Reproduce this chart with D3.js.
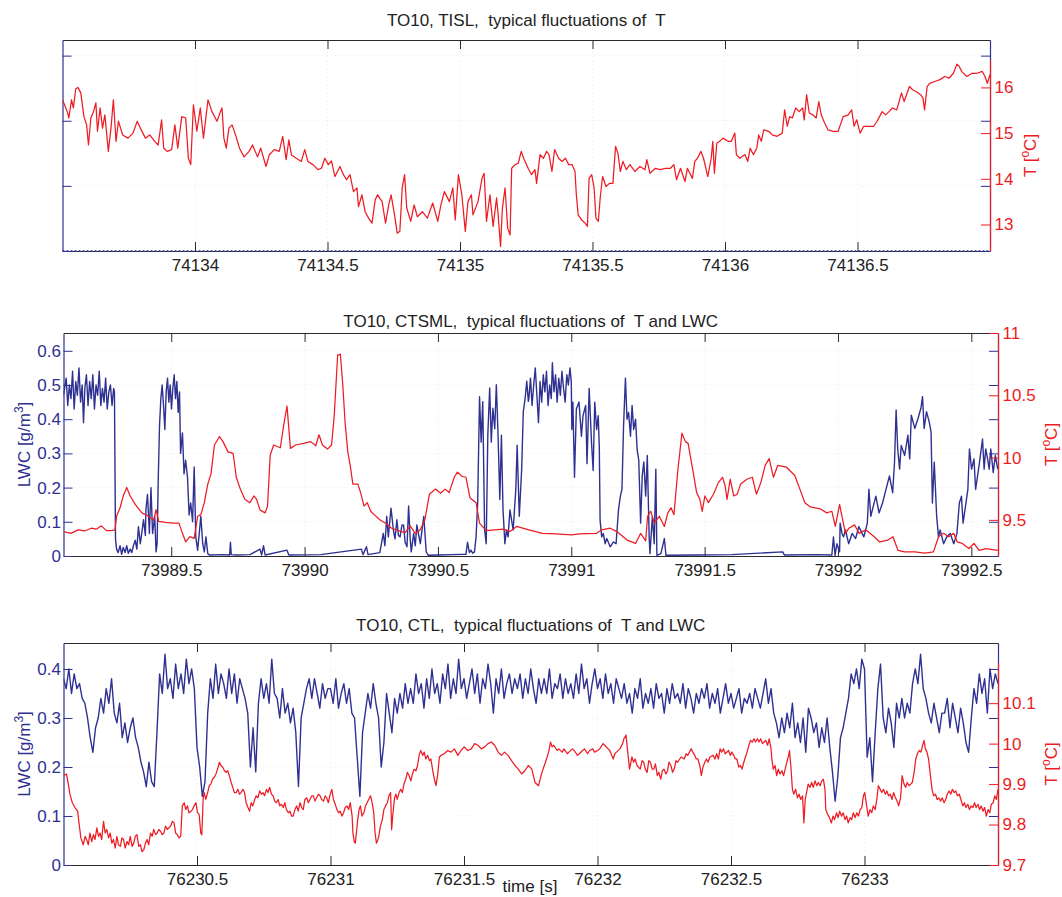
<!DOCTYPE html>
<html><head><meta charset="utf-8">
<script src="https://cdn.jsdelivr.net/npm/d3@7"></script>
<style>body{margin:0;background:#fff}svg{display:block}</style>
</head><body><svg id="c" width="1062" height="897"></svg>
<script>
// ---------------- DATA ----------------
const titles = ["TO10, TISL,  typical fluctuations of  T",
                "TO10, CTSML,  typical fluctuations of  T and LWC",
                "TO10, CTL,  typical fluctuations of  T and LWC"];
// time axis starts (s) ; offsets in the series are seconds from these
const p1Start = 74133.5, p2Start = 73989.1, p3Start = 76230;
const p1XTicks = [74134, 74134.5, 74135, 74135.5, 74136, 74136.5];
const p2XTicks = [73989.5, 73990, 73990.5, 73991, 73991.5, 73992, 73992.5];
const p3XTicks = [76230.5, 76231, 76231.5, 76232, 76232.5, 76233];
const p1LwcTicks = [0, 1, 2, 3];
const p2LwcTicks = [0, 0.1, 0.2, 0.3, 0.4, 0.5, 0.6];
const p3LwcTicks = [0, 0.1, 0.2, 0.3, 0.4];
const p1TTicks = [13, 14, 15, 16];
const p2TTicks = [9.5, 10, 10.5, 11];
const p3TTicks = [9.7, 9.8, 9.9, 10, 10.1];

// Panel 1 : temperature [offset s, T degC]
const p1Temp = [[0,15.73],[.018,15.47],[.024,15.33],[.034,15.73],[.041,15.55],[.050,15.97],[.058,16.00],[.069,15.88],[.081,15.36],[.091,15.18],[.098,14.74],[.107,15.33],[.117,15.47],[.126,15.66],[.132,15.04],[.142,15.55],[.151,15.11],[.160,15.40],[.173,14.60],[.183,15.11],[.192,15.73],[.202,14.82],[.211,15.26],[.227,14.96],[.247,14.89],[.266,15.00],[.282,15.26],[.297,15.07],[.313,14.89],[.329,14.96],[.348,14.82],[.361,14.74],[.374,15.29],[.382,14.67],[.395,14.60],[.412,14.64],[.424,15.18],[.435,14.67],[.450,15.36],[.465,15.33],[.475,14.45],[.484,14.31],[.494,15.62],[.507,15.04],[.520,15.55],[.532,14.89],[.549,15.73],[.564,15.47],[.583,15.26],[.596,15.47],[.602,15.55],[.609,14.89],[.618,14.67],[.628,15.11],[.640,15.18],[.653,14.96],[.668,14.67],[.685,14.48],[.704,14.60],[.717,14.74],[.736,14.48],[.748,14.67],[.768,14.27],[.780,14.52],[.799,14.64],[.818,14.60],[.831,14.93],[.844,14.42],[.854,14.85],[.864,14.52],[.882,14.45],[.901,14.38],[.914,14.64],[.926,14.38],[.945,14.31],[.964,14.20],[.977,14.23],[.990,14.45],[1.003,14.31],[1.015,14.39],[1.028,14.05],[1.047,14.27],[1.060,14.09],[1.072,13.98],[1.085,14.09],[1.098,13.72],[1.111,13.80],[1.117,13.39],[1.130,13.65],[1.142,13.28],[1.155,13.14],[1.168,13.03],[1.180,13.54],[1.189,13.65],[1.206,13.50],[1.219,13.03],[1.231,13.43],[1.240,13.65],[1.253,13.21],[1.263,12.81],[1.273,12.85],[1.282,13.80],[1.291,14.09],[1.299,13.36],[1.314,13.07],[1.327,13.43],[1.339,13.17],[1.358,13.28],[1.377,13.14],[1.397,13.47],[1.416,13.07],[1.428,13.43],[1.441,13.72],[1.460,13.50],[1.473,13.80],[1.482,13.10],[1.494,14.09],[1.507,13.65],[1.520,12.85],[1.530,13.50],[1.543,13.65],[1.549,13.21],[1.568,13.50],[1.583,14.01],[1.591,14.12],[1.600,13.07],[1.613,13.65],[1.625,12.96],[1.638,13.58],[1.644,13.21],[1.653,12.52],[1.660,13.36],[1.670,13.80],[1.680,12.92],[1.689,12.77],[1.695,14.23],[1.708,14.31],[1.720,14.34],[1.731,14.60],[1.740,14.45],[1.757,14.23],[1.770,14.09],[1.783,14.20],[1.789,13.90],[1.802,14.53],[1.815,14.45],[1.827,14.60],[1.836,14.53],[1.847,14.16],[1.857,14.64],[1.872,14.45],[1.885,14.38],[1.898,14.45],[1.910,14.31],[1.923,14.31],[1.934,14.16],[1.939,13.65],[1.946,13.21],[1.959,13.10],[1.972,13.03],[1.981,12.96],[1.987,14.01],[1.997,14.09],[2.006,13.80],[2.013,13.14],[2.022,13.07],[2.029,13.58],[2.038,14.05],[2.051,13.83],[2.064,13.90],[2.077,13.90],[2.087,14.71],[2.096,14.56],[2.105,14.16],[2.115,14.38],[2.128,14.20],[2.141,14.31],[2.160,14.16],[2.179,14.27],[2.198,14.20],[2.205,14.42],[2.217,14.12],[2.237,14.23],[2.256,14.20],[2.275,14.23],[2.294,14.23],[2.307,14.31],[2.317,13.98],[2.332,14.23],[2.349,13.94],[2.358,14.23],[2.377,14.01],[2.386,14.38],[2.396,14.45],[2.409,14.60],[2.419,14.45],[2.435,14.05],[2.448,14.45],[2.454,14.82],[2.460,14.12],[2.469,14.78],[2.480,14.82],[2.492,14.89],[2.512,14.82],[2.524,14.82],[2.537,15.00],[2.543,14.53],[2.556,14.45],[2.575,14.53],[2.586,14.38],[2.595,14.67],[2.607,14.53],[2.620,14.67],[2.627,14.96],[2.637,14.82],[2.646,15.07],[2.665,15.04],[2.678,14.96],[2.697,14.93],[2.716,15.00],[2.725,15.51],[2.735,15.15],[2.744,15.36],[2.754,15.33],[2.767,15.55],[2.780,15.47],[2.793,15.55],[2.799,15.29],[2.808,15.84],[2.818,15.44],[2.831,15.40],[2.844,15.33],[2.854,15.69],[2.863,15.40],[2.876,15.22],[2.889,15.07],[2.908,15.04],[2.927,15.04],[2.946,15.36],[2.965,15.40],[2.978,15.51],[2.987,15.15],[2.997,15.29],[3.010,15.00],[3.023,15.15],[3.042,15.15],[3.061,15.15],[3.074,15.26],[3.093,15.47],[3.106,15.40],[3.119,15.47],[3.132,15.55],[3.148,15.51],[3.157,15.69],[3.166,15.88],[3.176,15.69],[3.196,16.02],[3.208,15.95],[3.221,15.91],[3.238,15.84],[3.247,15.77],[3.253,15.51],[3.263,16.02],[3.272,16.09],[3.292,16.13],[3.311,16.17],[3.330,16.24],[3.345,16.20],[3.362,16.31],[3.375,16.51],[3.384,16.46],[3.394,16.34],[3.413,16.24],[3.432,16.31],[3.451,16.31],[3.471,16.35],[3.481,16.24],[3.490,16.09],[3.500,16.28]];
// Panel 1 : LWC (empty record, stays at zero)
const p1Lwc = [[0,0],[3.5,0]];

// Panel 2 : temperature
const p2Temp = [[-.004,9.406],[.024,9.392],[.051,9.420],[.075,9.411],[.100,9.433],[.119,9.425],[.138,9.452],[.157,9.414],[.176,9.414],[.189,9.420],[.195,9.529],[.208,9.597],[.220,9.692],[.233,9.760],[.246,9.692],[.265,9.624],[.290,9.556],[.315,9.529],[.334,9.496],[.343,9.583],[.353,9.488],[.378,9.480],[.404,9.474],[.429,9.474],[.442,9.392],[.454,9.324],[.470,9.365],[.486,9.351],[.499,9.529],[.511,9.542],[.524,9.638],[.537,9.787],[.549,9.869],[.562,10.101],[.581,10.169],[.594,10.128],[.613,10.046],[.632,10.033],[.644,9.842],[.659,9.747],[.676,9.665],[.695,9.638],[.710,9.692],[.720,9.665],[.733,9.578],[.752,9.556],[.761,9.610],[.771,10.019],[.784,10.101],[.809,10.079],[.822,10.264],[.834,10.414],[.847,10.074],[.866,10.101],[.897,10.114],[.923,10.128],[.942,10.095],[.954,10.183],[.967,10.101],[.986,10.068],[1.001,10.101],[1.011,10.332],[1.024,10.823],[1.034,10.831],[1.043,10.591],[1.052,10.278],[1.062,10.046],[1.071,9.937],[1.081,9.787],[1.100,9.787],[1.110,9.719],[1.123,9.610],[1.135,9.638],[1.148,9.569],[1.161,9.542],[1.182,9.501],[1.207,9.469],[1.226,9.433],[1.252,9.414],[1.277,9.398],[1.296,9.452],[1.315,9.392],[1.334,9.420],[1.351,9.501],[1.368,9.706],[1.391,9.747],[1.410,9.714],[1.427,9.747],[1.442,9.719],[1.461,9.842],[1.473,9.883],[1.490,9.850],[1.505,9.842],[1.520,9.678],[1.543,9.638],[1.556,9.474],[1.581,9.414],[1.613,9.420],[1.644,9.425],[1.670,9.406],[1.695,9.447],[1.718,9.433],[1.741,9.420],[1.792,9.392],[1.843,9.387],[1.900,9.379],[1.932,9.387],[1.995,9.392],[2.014,9.420],[2.046,9.433],[2.071,9.406],[2.109,9.338],[2.141,9.311],[2.160,9.392],[2.179,9.332],[2.186,9.529],[2.198,9.569],[2.211,9.474],[2.230,9.529],[2.249,9.447],[2.262,9.556],[2.274,9.597],[2.285,9.542],[2.300,9.910],[2.315,10.196],[2.328,10.128],[2.338,10.114],[2.357,9.883],[2.370,9.719],[2.382,9.665],[2.391,9.569],[2.401,9.692],[2.414,9.638],[2.433,9.706],[2.452,9.801],[2.467,9.842],[2.477,9.774],[2.484,9.665],[2.496,9.828],[2.509,9.692],[2.522,9.706],[2.535,9.787],[2.560,9.828],[2.579,9.842],[2.594,9.706],[2.611,9.801],[2.627,9.937],[2.642,9.992],[2.658,9.842],[2.674,9.937],[2.706,9.924],[2.738,9.856],[2.757,9.747],[2.776,9.638],[2.795,9.605],[2.833,9.589],[2.858,9.556],[2.877,9.569],[2.890,9.447],[2.906,9.624],[2.915,9.529],[2.928,9.392],[2.941,9.433],[2.962,9.460],[2.979,9.392],[3.004,9.420],[3.036,9.365],[3.055,9.324],[3.087,9.338],[3.106,9.365],[3.125,9.256],[3.150,9.243],[3.188,9.243],[3.226,9.234],[3.258,9.243],[3.277,9.365],[3.296,9.392],[3.315,9.365],[3.334,9.392],[3.347,9.324],[3.366,9.311],[3.391,9.270],[3.410,9.311],[3.429,9.256],[3.455,9.270],[3.499,9.256]];
// Panel 2 : LWC [offset s, g/m3]
const p2Lwc = [[-.004,0.47],[.006,0.52],[.012,0.44],[.018,0.50],[.024,0.46],[.030,0.54],[.036,0.43],[.042,0.51],[.048,0.47],[.054,0.55],[.060,0.45],[.066,0.50],[.071,0.39],[.076,0.49],[.082,0.53],[.088,0.44],[.094,0.51],[.100,0.46],[.106,0.53],[.112,0.43],[.118,0.50],[.124,0.47],[.130,0.54],[.136,0.44],[.142,0.49],[.148,0.45],[.154,0.52],[.160,0.43],[.166,0.48],[.172,0.50],[.178,0.44],[.184,0.49],[.187,0.48],[.191,0.05],[.195,0.02],[.201,0.01],[.208,0.03],[.214,0.005],[.220,0.025],[.227,0.01],[.233,0.03],[.239,0.008],[.246,0.02],[.252,0.01],[.258,0.03],[.265,0.046],[.271,0.02],[.277,0.086],[.284,0.036],[.290,0.07],[.296,0.106],[.303,0.06],[.305,0.135],[.311,0.18],[.318,0.066],[.324,0.20],[.330,0.066],[.338,0.116],[.343,0.012],[.347,0.036],[.351,0.215],[.356,0.38],[.361,0.46],[.366,0.50],[.371,0.44],[.376,0.37],[.381,0.48],[.386,0.52],[.391,0.45],[.396,0.50],[.401,0.43],[.406,0.49],[.411,0.53],[.416,0.46],[.421,0.51],[.426,0.42],[.431,0.48],[.435,0.30],[.442,0.36],[.448,0.24],[.454,0.28],[.461,0.23],[.467,0.12],[.473,0.155],[.480,0.10],[.486,0.26],[.492,0.056],[.499,0.017],[.505,0.066],[.511,0.116],[.518,0.036],[.524,0.012],[.530,0.056],[.537,0.007],[.543,0.003],[.594,0.004],[.619,0.003],[.622,0.04],[.625,0.004],[.644,0.003],[.695,0.004],[.733,0.02],[.739,0.003],[.746,0.03],[.752,0.003],[.834,0.017],[.841,0.003],[.961,0.004],[1.113,0.02],[1.119,0.004],[1.132,0.027],[1.138,0.004],[1.182,0.01],[1.195,0.066],[1.201,0.03],[1.208,0.116],[1.214,0.056],[1.224,0.14],[1.233,0.076],[1.239,0.05],[1.246,0.106],[1.252,0.06],[1.258,0.056],[1.265,0.09],[1.271,0.091],[1.277,0.04],[1.284,0.027],[1.290,0.146],[1.296,0.05],[1.300,0.012],[1.309,0.066],[1.315,0.03],[1.321,0.091],[1.328,0.06],[1.334,0.036],[1.341,0.08],[1.347,0.116],[1.356,0.012],[1.364,0.002],[1.404,0.003],[1.454,0.004],[1.505,0.005],[1.511,0.04],[1.518,0.01],[1.524,0.017],[1.530,0.008],[1.537,0.012],[1.543,0.056],[1.549,0.155],[1.556,0.466],[1.562,0.333],[1.568,0.451],[1.575,0.076],[1.581,0.036],[1.587,0.353],[1.594,0.491],[1.600,0.333],[1.606,0.432],[1.613,0.372],[1.619,0.501],[1.625,0.363],[1.632,0.165],[1.638,0.353],[1.644,0.135],[1.651,0.036],[1.657,0.076],[1.663,0.056],[1.670,0.135],[1.682,0.076],[1.692,0.195],[1.697,0.324],[1.705,0.116],[1.714,0.254],[1.720,0.422],[1.727,0.461],[1.733,0.511],[1.739,0.452],[1.741,0.46],[1.747,0.52],[1.753,0.44],[1.759,0.50],[1.765,0.55],[1.771,0.47],[1.777,0.39],[1.783,0.51],[1.789,0.45],[1.795,0.53],[1.801,0.48],[1.807,0.54],[1.813,0.44],[1.819,0.50],[1.825,0.46],[1.829,0.565],[1.835,0.48],[1.841,0.53],[1.847,0.45],[1.853,0.52],[1.859,0.47],[1.865,0.54],[1.871,0.49],[1.877,0.45],[1.883,0.53],[1.889,0.50],[1.895,0.55],[1.900,0.51],[1.902,0.37],[1.906,0.45],[1.912,0.23],[1.919,0.43],[1.929,0.45],[1.938,0.35],[1.944,0.41],[1.954,0.44],[1.959,0.27],[1.967,0.49],[1.976,0.33],[1.982,0.25],[1.988,0.45],[1.995,0.37],[2.001,0.41],[2.005,0.32],[2.008,0.105],[2.014,0.056],[2.020,0.066],[2.027,0.036],[2.033,0.051],[2.046,0.027],[2.058,0.041],[2.068,0.036],[2.077,0.135],[2.084,0.175],[2.090,0.195],[2.096,0.38],[2.103,0.52],[2.109,0.40],[2.115,0.42],[2.122,0.35],[2.128,0.44],[2.134,0.37],[2.141,0.40],[2.147,0.31],[2.153,0.28],[2.160,0.096],[2.166,0.235],[2.172,0.275],[2.179,0.175],[2.185,0.294],[2.192,0.056],[2.195,0.007],[2.204,0.115],[2.211,0.036],[2.217,0.254],[2.221,0.002],[2.236,0.007],[2.249,0.051],[2.255,0.002],[2.376,0.003],[2.502,0.004],[2.693,0.012],[2.699,0.003],[2.820,0.004],[2.877,0.003],[2.883,0.056],[2.889,0.002],[2.896,0.036],[2.906,0.012],[2.908,0.096],[2.915,0.066],[2.921,0.056],[2.928,0.076],[2.940,0.036],[2.953,0.066],[2.966,0.051],[2.978,0.086],[2.997,0.056],[3.010,0.096],[3.016,0.195],[3.023,0.116],[3.029,0.135],[3.042,0.175],[3.054,0.126],[3.067,0.155],[3.080,0.195],[3.093,0.234],[3.105,0.185],[3.112,0.274],[3.118,0.427],[3.124,0.313],[3.131,0.254],[3.137,0.323],[3.150,0.294],[3.162,0.353],[3.169,0.284],[3.175,0.412],[3.188,0.373],[3.200,0.402],[3.211,0.432],[3.217,0.466],[3.223,0.373],[3.232,0.422],[3.242,0.392],[3.249,0.363],[3.254,0.155],[3.261,0.274],[3.270,0.116],[3.277,0.056],[3.283,0.076],[3.296,0.036],[3.308,0.056],[3.321,0.066],[3.334,0.036],[3.346,0.066],[3.355,0.155],[3.363,0.175],[3.369,0.096],[3.378,0.145],[3.387,0.195],[3.393,0.313],[3.401,0.254],[3.410,0.284],[3.416,0.195],[3.429,0.264],[3.442,0.342],[3.448,0.254],[3.454,0.313],[3.461,0.284],[3.467,0.254],[3.473,0.313],[3.482,0.244],[3.490,0.294],[3.499,0.254]];

// Panel 3 : temperature
const p3Temp = [[0,9.921],[.011,9.925],[.018,9.900],[.024,9.875],[.033,9.854],[.043,9.842],[.053,9.833],[.058,9.804],[.065,9.767],[.074,9.750],[.081,9.771],[.087,9.762],[.093,9.750],[.099,9.779],[.106,9.758],[.112,9.775],[.118,9.763],[.125,9.792],[.131,9.771],[.137,9.779],[.143,9.763],[.150,9.808],[.156,9.779],[.162,9.788],[.169,9.767],[.175,9.779],[.181,9.754],[.187,9.763],[.194,9.742],[.200,9.771],[.206,9.750],[.213,9.746],[.219,9.767],[.225,9.763],[.231,9.742],[.238,9.758],[.244,9.750],[.250,9.771],[.257,9.746],[.263,9.754],[.269,9.771],[.275,9.775],[.282,9.746],[.288,9.750],[.294,9.733],[.301,9.738],[.307,9.754],[.313,9.763],[.319,9.750],[.326,9.779],[.332,9.771],[.338,9.788],[.345,9.775],[.351,9.779],[.357,9.788],[.364,9.783],[.370,9.775],[.376,9.779],[.382,9.796],[.389,9.788],[.395,9.792],[.401,9.796],[.408,9.808],[.414,9.804],[.420,9.779],[.426,9.775],[.433,9.767],[.439,9.771],[.445,9.846],[.452,9.854],[.458,9.837],[.464,9.846],[.470,9.829],[.477,9.833],[.483,9.837],[.489,9.846],[.496,9.854],[.502,9.829],[.508,9.825],[.514,9.779],[.518,9.775],[.523,9.862],[.527,9.879],[.533,9.862],[.540,9.879],[.546,9.896],[.552,9.900],[.558,9.912],[.565,9.917],[.571,9.925],[.577,9.937],[.584,9.954],[.590,9.946],[.596,9.942],[.603,9.933],[.609,9.929],[.615,9.933],[.621,9.921],[.628,9.904],[.634,9.892],[.640,9.879],[.647,9.879],[.653,9.887],[.659,9.875],[.665,9.879],[.672,9.887],[.678,9.879],[.684,9.854],[.691,9.842],[.697,9.833],[.703,9.854],[.709,9.846],[.716,9.862],[.722,9.871],[.728,9.866],[.735,9.883],[.741,9.875],[.747,9.879],[.753,9.871],[.760,9.887],[.766,9.879],[.772,9.892],[.779,9.875],[.785,9.871],[.791,9.858],[.797,9.854],[.804,9.862],[.810,9.846],[.816,9.850],[.823,9.842],[.829,9.854],[.835,9.837],[.842,9.829],[.848,9.833],[.854,9.821],[.860,9.821],[.867,9.837],[.873,9.846],[.879,9.833],[.886,9.854],[.892,9.842],[.898,9.837],[.904,9.862],[.911,9.866],[.917,9.854],[.923,9.862],[.930,9.871],[.936,9.871],[.942,9.858],[.948,9.866],[.955,9.875],[.961,9.871],[.967,9.862],[.974,9.858],[.980,9.871],[.986,9.866],[.992,9.854],[.999,9.875],[1.005,9.887],[1.011,9.862],[1.018,9.850],[1.024,9.837],[1.030,9.829],[1.036,9.833],[1.043,9.821],[1.049,9.829],[1.055,9.842],[1.062,9.846],[1.068,9.837],[1.074,9.854],[1.081,9.821],[1.084,9.779],[1.089,9.758],[1.093,9.754],[1.097,9.779],[1.102,9.812],[1.107,9.837],[1.112,9.846],[1.118,9.821],[1.125,9.829],[1.131,9.846],[1.137,9.854],[1.143,9.862],[1.150,9.871],[1.156,9.854],[1.162,9.829],[1.167,9.779],[1.172,9.754],[1.177,9.762],[1.181,9.771],[1.187,9.796],[1.194,9.812],[1.200,9.837],[1.206,9.846],[1.213,9.854],[1.219,9.871],[1.225,9.879],[1.229,9.787],[1.233,9.821],[1.240,9.866],[1.245,9.875],[1.250,9.862],[1.257,9.879],[1.263,9.887],[1.269,9.879],[1.275,9.900],[1.282,9.912],[1.288,9.929],[1.294,9.921],[1.301,9.908],[1.307,9.925],[1.313,9.937],[1.320,9.933],[1.326,9.946],[1.332,9.971],[1.338,9.983],[1.345,9.971],[1.351,9.979],[1.357,9.962],[1.364,9.971],[1.370,9.958],[1.376,9.962],[1.382,9.937],[1.389,9.912],[1.395,9.896],[1.401,9.921],[1.408,9.967],[1.414,9.971],[1.426,9.975],[1.439,9.983],[1.452,9.979],[1.464,9.987],[1.477,9.971],[1.489,9.983],[1.501,9.992],[1.514,9.983],[1.527,9.987],[1.540,10.000],[1.552,9.996],[1.565,9.987],[1.577,9.992],[1.590,10.000],[1.602,10.004],[1.615,9.996],[1.628,9.979],[1.640,9.971],[1.652,9.979],[1.665,9.971],[1.678,9.958],[1.691,9.946],[1.703,9.937],[1.716,9.925],[1.728,9.933],[1.741,9.946],[1.754,9.937],[1.766,9.904],[1.779,9.896],[1.792,9.929],[1.805,9.954],[1.817,9.979],[1.824,10.004],[1.830,9.992],[1.836,9.996],[1.849,9.983],[1.855,9.987],[1.868,9.979],[1.874,9.987],[1.887,9.975],[1.893,9.979],[1.906,9.987],[1.913,9.983],[1.925,9.971],[1.932,9.975],[1.944,9.983],[1.951,9.987],[1.963,9.975],[1.970,9.983],[1.982,9.987],[1.989,9.979],[2.001,9.983],[2.008,9.987],[2.021,10.000],[2.027,9.996],[2.040,9.987],[2.046,9.983],[2.059,9.962],[2.065,9.975],[2.071,9.979],[2.084,9.987],[2.094,10.000],[2.099,10.012],[2.107,10.021],[2.112,9.987],[2.120,9.937],[2.129,9.967],[2.135,9.954],[2.141,9.962],[2.148,9.946],[2.160,9.937],[2.167,9.958],[2.173,9.954],[2.179,9.937],[2.186,9.929],[2.192,9.958],[2.198,9.954],[2.205,9.937],[2.211,9.937],[2.217,9.950],[2.224,9.921],[2.230,9.929],[2.237,9.912],[2.243,9.933],[2.249,9.937],[2.256,9.925],[2.262,9.933],[2.268,9.954],[2.275,9.946],[2.281,9.929],[2.287,9.937],[2.294,9.958],[2.300,9.954],[2.313,9.967],[2.325,9.962],[2.332,9.975],[2.338,9.971],[2.351,9.987],[2.357,9.979],[2.364,9.971],[2.370,9.962],[2.376,9.962],[2.383,9.946],[2.389,9.921],[2.395,9.942],[2.402,9.954],[2.408,9.962],[2.414,9.954],[2.421,9.967],[2.433,9.971],[2.440,9.962],[2.446,9.975],[2.453,9.962],[2.459,9.987],[2.465,9.979],[2.472,9.987],[2.478,9.975],[2.491,9.983],[2.497,9.971],[2.503,9.979],[2.510,9.971],[2.516,9.962],[2.522,9.962],[2.529,9.942],[2.535,9.946],[2.541,9.937],[2.548,9.954],[2.554,9.967],[2.560,9.979],[2.567,9.996],[2.573,10.008],[2.580,10.004],[2.586,10.012],[2.592,10.004],[2.599,10.012],[2.605,10.004],[2.611,10.012],[2.618,10.000],[2.624,10.004],[2.630,10.008],[2.637,9.996],[2.643,10.012],[2.650,9.987],[2.653,9.962],[2.658,9.937],[2.665,9.946],[2.671,9.921],[2.677,9.937],[2.684,9.925],[2.691,9.933],[2.697,9.921],[2.703,9.937],[2.709,9.954],[2.716,9.971],[2.719,9.983],[2.724,9.946],[2.730,9.887],[2.735,9.875],[2.742,9.887],[2.749,9.866],[2.755,9.875],[2.761,9.862],[2.768,9.871],[2.773,9.804],[2.778,9.862],[2.783,9.879],[2.789,9.900],[2.796,9.892],[2.802,9.904],[2.808,9.892],[2.815,9.908],[2.821,9.896],[2.827,9.904],[2.834,9.896],[2.840,9.908],[2.846,9.912],[2.852,9.887],[2.855,9.837],[2.862,9.825],[2.869,9.817],[2.876,9.804],[2.882,9.821],[2.888,9.812],[2.895,9.829],[2.901,9.817],[2.907,9.833],[2.914,9.821],[2.920,9.829],[2.927,9.812],[2.933,9.821],[2.939,9.804],[2.946,9.817],[2.952,9.812],[2.958,9.829],[2.965,9.817],[2.971,9.829],[2.977,9.821],[2.984,9.837],[2.990,9.842],[2.996,9.871],[3.001,9.879],[3.008,9.846],[3.014,9.821],[3.021,9.837],[3.027,9.829],[3.033,9.846],[3.040,9.837],[3.046,9.862],[3.052,9.896],[3.059,9.887],[3.065,9.879],[3.071,9.887],[3.078,9.875],[3.084,9.883],[3.090,9.871],[3.097,9.875],[3.103,9.862],[3.109,9.879],[3.116,9.866],[3.122,9.858],[3.128,9.846],[3.135,9.866],[3.141,9.921],[3.148,9.900],[3.154,9.892],[3.160,9.904],[3.167,9.896],[3.173,9.900],[3.179,9.904],[3.186,9.929],[3.192,9.962],[3.198,9.975],[3.205,9.983],[3.211,9.979],[3.218,9.996],[3.223,10.008],[3.228,9.987],[3.234,9.979],[3.240,9.962],[3.247,9.921],[3.253,9.887],[3.259,9.871],[3.266,9.875],[3.272,9.862],[3.278,9.866],[3.285,9.858],[3.291,9.866],[3.298,9.854],[3.304,9.862],[3.310,9.875],[3.317,9.883],[3.323,9.875],[3.329,9.887],[3.336,9.879],[3.342,9.883],[3.348,9.871],[3.355,9.875],[3.361,9.862],[3.368,9.846],[3.374,9.854],[3.380,9.842],[3.387,9.850],[3.393,9.837],[3.399,9.846],[3.406,9.842],[3.412,9.854],[3.418,9.842],[3.425,9.850],[3.431,9.837],[3.437,9.846],[3.444,9.833],[3.450,9.842],[3.456,9.821],[3.463,9.837],[3.469,9.829],[3.475,9.850],[3.482,9.854],[3.488,9.871],[3.494,9.862],[3.500,9.887]];
// Panel 3 : LWC sampled every p3LwcStep seconds from p3Start
const p3LwcStep = 0.01;
const p3Lwc = [
0.38,0.36,0.40,0.35,0.39,0.36,0.37,0.34,0.33,0.30,
0.26,0.23,0.28,0.30,0.34,0.31,0.36,0.33,0.38,0.31,
0.29,0.33,0.26,0.29,0.25,0.28,0.30,0.26,0.24,0.21,
0.19,0.16,0.21,0.17,0.16,0.27,0.39,0.35,0.43,0.36,
0.38,0.34,0.41,0.36,0.39,0.35,0.42,0.37,0.40,0.36,
0.24,0.20,0.14,0.17,0.31,0.38,0.34,0.41,0.35,0.39,
0.37,0.34,0.40,0.35,0.39,0.33,0.38,0.36,0.34,0.31,
0.20,0.28,0.19,0.33,0.38,0.34,0.37,0.33,0.42,0.35,
0.34,0.30,0.36,0.31,0.33,0.29,0.32,0.27,0.16,0.30,
0.33,0.36,0.38,0.34,0.38,0.35,0.32,0.37,0.34,0.36,
0.36,0.33,0.38,0.32,0.35,0.37,0.33,0.36,0.31,0.30,
0.22,0.14,0.27,0.31,0.35,0.32,0.37,0.33,0.30,0.20,
0.25,0.35,0.31,0.27,0.34,0.31,0.35,0.32,0.37,0.33,
0.36,0.33,0.39,0.35,0.37,0.32,0.38,0.34,0.40,0.35,
0.37,0.33,0.39,0.36,0.41,0.34,0.38,0.35,0.42,0.36,
0.38,0.34,0.37,0.40,0.35,0.39,0.33,0.38,0.36,0.41,
0.37,0.31,0.38,0.35,0.40,0.34,0.37,0.39,0.35,0.38,
0.36,0.39,0.34,0.38,0.35,0.40,0.36,0.33,0.38,0.35,
0.38,0.35,0.40,0.34,0.37,0.36,0.39,0.34,0.38,0.35,
0.37,0.34,0.39,0.35,0.41,0.36,0.38,0.33,0.37,0.40,
0.36,0.38,0.34,0.39,0.35,0.37,0.33,0.38,0.36,0.34,
0.37,0.33,0.35,0.31,0.36,0.34,0.38,0.32,0.35,0.33,
0.36,0.32,0.37,0.34,0.35,0.31,0.36,0.33,0.37,0.34,
0.35,0.33,0.37,0.32,0.36,0.34,0.31,0.35,0.33,0.36,
0.34,0.37,0.32,0.35,0.33,0.36,0.31,0.34,0.37,0.33,
0.35,0.32,0.34,0.36,0.31,0.34,0.33,0.35,0.32,0.36,
0.34,0.32,0.35,0.38,0.33,0.36,0.31,0.29,0.26,0.30,
0.27,0.31,0.28,0.33,0.26,0.29,0.25,0.30,0.23,0.32,
0.30,0.27,0.29,0.24,0.28,0.25,0.30,0.24,0.19,0.13,
0.18,0.26,0.28,0.31,0.34,0.39,0.37,0.40,0.36,0.42,
0.40,0.22,0.26,0.17,0.27,0.36,0.41,0.30,0.27,0.32,
0.29,0.24,0.33,0.30,0.34,0.30,0.33,0.31,0.37,0.40,
0.37,0.43,0.36,0.34,0.31,0.29,0.33,0.30,0.27,0.31,
0.31,0.34,0.28,0.33,0.30,0.27,0.32,0.29,0.25,0.23,
0.30,0.36,0.33,0.39,0.35,0.38,0.31,0.40,0.36,0.39,
0.37];

// ---------------- DRAWING ----------------
const FONT = '"Liberation Sans", Arial, Helvetica, sans-serif';
const BLUE = '#2e3192', RED = '#ed1c24', AX = '#2a2a2a', TXT = '#222';
const FS = 17, TL = 9;
const svg = d3.select('#c');

const panels = [
  {id:1, title:titles[0], start:p1Start, xDomain:[p1Start, p1Start+3.5], xTicks:p1XTicks,
   left:62.5, right:990, top:40, bottom:251, rTop:60,
   lDomain:[0,3.24], lTicks:p1LwcTicks, lLabels:false, rDomain:[12.42,16.6], rTicks:p1TTicks,
   lwc:p1Lwc, lwcDash:'2,2', temp:p1Temp, rLabelX:1036, lLabel:false, titleY:26},
  {id:2, title:titles[1], start:p2Start, xDomain:[p2Start-0.004, p2Start+3.5], xTicks:p2XTicks,
   left:63.5, right:998, top:333, bottom:556, rTop:333,
   lDomain:[0,0.652], lTicks:p2LwcTicks, lLabels:true, rDomain:[9.21,11], rTicks:p2TTicks,
   lwc:p2Lwc, temp:p2Temp, rLabelX:1057, lLabel:true, titleY:327},
  {id:3, title:titles[2], start:p3Start, xDomain:[p3Start, p3Start+3.5], xTicks:p3XTicks,
   left:63.5, right:998, top:643, bottom:865, rTop:662.7,
   lDomain:[0,0.453], lTicks:p3LwcTicks, lLabels:true, rDomain:[9.7,10.2], rTicks:p3TTicks,
   lwc:p3Lwc.map((v,i)=>[i*p3LwcStep, v]), temp:p3Temp, rLabelX:1057, lLabel:true, titleY:631}
];

function styleAxis(sel, color, textColor){
  sel.attr('font-size', FS).attr('font-family', FONT);
  sel.select('.domain').attr('stroke', color).attr('stroke-width', 1.2);
  sel.selectAll('.tick line').attr('stroke', color).attr('stroke-width', 1);
  sel.selectAll('.tick text').attr('fill', textColor);
}

function rotLabel(g, x, y, main, sup, tail, color){
  const t = g.append('text').attr('transform', `translate(${x},${y}) rotate(-90)`)
    .attr('text-anchor','middle').attr('fill', color).attr('font-size', FS).attr('font-family', FONT);
  t.append('tspan').text(main);
  t.append('tspan').attr('dy', -7).attr('font-size', 12).text(sup);
  t.append('tspan').attr('dy', 7).text(tail);
}

panels.forEach(c => {
  const x = d3.scaleLinear().domain(c.xDomain).range([c.left, c.right]);
  const yL = d3.scaleLinear().domain(c.lDomain).range([c.bottom, c.top]);
  const yR = d3.scaleLinear().domain(c.rDomain).range([c.bottom, c.rTop]);
  const g = svg.append('g');
  const cid = 'clip' + c.id;
  svg.append('clipPath').attr('id', cid).append('rect')
    .attr('x', c.left).attr('y', c.top - 1).attr('width', c.right - c.left).attr('height', c.bottom - c.top + 2);

  // faint dotted grid
  const grid = g.append('g').attr('stroke', '#e4e4e4').attr('stroke-width', 0.8).attr('stroke-dasharray', '1,3');
  grid.selectAll('line.gx').data(c.xTicks).join('line').attr('class','gx')
    .attr('x1', d => x(d)).attr('x2', d => x(d)).attr('y1', c.top).attr('y2', c.bottom);
  grid.selectAll('line.gy').data(c.lTicks.slice(1)).join('line').attr('class','gy')
    .attr('y1', d => yL(d)).attr('y2', d => yL(d)).attr('x1', c.left).attr('x2', c.right);

  // x axes (bottom with labels, top mirrored)
  g.append('g').attr('transform', `translate(0,${c.bottom})`)
    .call(d3.axisBottom(x).tickValues(c.xTicks).tickFormat(d => String(d)).tickSizeInner(-TL).tickSizeOuter(0).tickPadding(8))
    .call(s => styleAxis(s, AX, TXT));
  g.append('g').attr('transform', `translate(0,${c.top})`)
    .call(d3.axisTop(x).tickValues(c.xTicks).tickFormat('').tickSizeInner(-TL).tickSizeOuter(0))
    .call(s => styleAxis(s, AX, TXT));

  // left (LWC) axis, blue, mirrored on the right
  g.append('g').attr('transform', `translate(${c.left},0)`)
    .call(d3.axisLeft(yL).tickValues(c.lTicks).tickFormat(c.lLabels ? (d => String(d)) : '').tickSizeInner(-TL).tickSizeOuter(0).tickPadding(2.5))
    .call(s => styleAxis(s, BLUE, BLUE));
  g.append('g').attr('transform', `translate(${c.right},0)`)
    .call(d3.axisRight(yL).tickValues(c.lTicks).tickFormat('').tickSizeInner(-TL).tickSizeOuter(0))
    .call(s => styleAxis(s, BLUE, BLUE));

  // series
  const plot = g.append('g').attr('clip-path', `url(#${cid})`);
  const lineL = d3.line().x(d => x(c.start + d[0])).y(d => yL(d[1]));
  const lineR = d3.line().x(d => x(c.start + d[0])).y(d => yR(d[1]));
  plot.append('path').datum(c.lwc).attr('d', lineL).attr('fill', 'none')
    .attr('stroke', BLUE).attr('stroke-width', 1.4).attr('stroke-linejoin', 'round')
    .attr('stroke-dasharray', c.lwcDash || null);
  plot.append('path').datum(c.temp).attr('d', lineR).attr('fill', 'none')
    .attr('stroke', RED).attr('stroke-width', 1.25).attr('stroke-linejoin', 'round');

  // right (T) axis, red
  g.append('g').attr('transform', `translate(${c.right},0)`)
    .call(d3.axisRight(yR).tickValues(c.rTicks).tickFormat(d => String(d)).tickSizeInner(-TL).tickSizeOuter(0).tickPadding(4.5))
    .call(s => styleAxis(s, RED, RED));

  // title (double spaces kept)
  g.append('text').attr('x', (c.left + c.right) / 2).attr('y', c.titleY).attr('text-anchor', 'middle')
    .attr('xml:space', 'preserve').style('white-space', 'pre')
    .attr('font-size', FS).attr('font-family', FONT).attr('fill', TXT).text(c.title);

  // axis labels
  if (c.lLabel) rotLabel(g, 29.5, (c.top + c.bottom) / 2, 'LWC [g/m', '3', ']', BLUE);
  rotLabel(g, c.rLabelX, (c.rTop + c.bottom) / 2, 'T [', 'o', 'C]', RED);
});

svg.append('text').attr('x', 530).attr('y', 892).attr('text-anchor', 'middle')
  .attr('font-size', FS).attr('font-family', FONT).attr('fill', TXT).text('time [s]');
</script></body></html>
